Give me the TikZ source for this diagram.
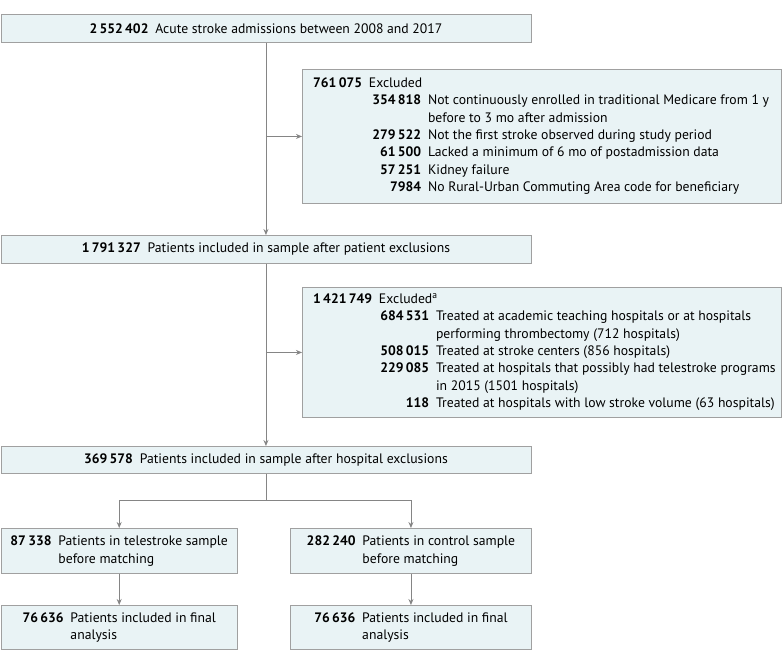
\documentclass[tikz,border=0pt]{standalone}
\usepackage{fontspec}
\setmainfont{PT Sans}
\usetikzlibrary{arrows.meta}
\definecolor{boxfill}{HTML}{E9F3F5}
\definecolor{boxline}{HTML}{A0A0A0}
\definecolor{conn}{HTML}{858585}
\newcommand{\nb}[1]{\textbf{#1}}
\begin{document}
\begin{tikzpicture}[x=1pt,y=-1pt,
  box/.style={draw=boxline,fill=boxfill,line width=0.9pt,inner sep=0pt,anchor=north west,font=\fontsize{13.7}{17.4}\selectfont},
  txt/.style={inner sep=0pt,align=left,font=\fontsize{13.7}{17.4}\selectfont},
  conn/.style={draw=conn,line width=0.9pt},
  arrow/.style={conn,-{Stealth[length=6pt,width=5pt]}}]
\useasboundingbox (0,0) rectangle (783,663);
% main boxes
\node[box,minimum width=530pt,minimum height=28pt] (a) at (0.5,14) {\nb{2\,552\,402}\enspace Acute stroke admissions between 2008 and 2017};
\node[box,minimum width=530pt,minimum height=28pt] (b) at (0.5,235) {\nb{1\,791\,327}\enspace Patients included in sample after patient exclusions};
\node[box,minimum width=530pt,minimum height=27pt] (c) at (0.5,446) {\nb{369\,578}\enspace Patients included in sample after hospital exclusions};
% exclusion boxes
\node[box,minimum width=479pt,minimum height=134pt] (e1) at (302,69) {};
\node[txt,anchor=west] (e1t) at (313,136) {%
\nb{761\,075}\enspace Excluded\\
\makebox[108pt][r]{\nb{354\,818}}\enspace Not continuously enrolled in traditional Medicare from 1 y\\
\makebox[108pt][r]{}\enspace before to 3 mo after admission\\
\makebox[108pt][r]{\nb{279\,522}}\enspace Not the first stroke observed during study period\\
\makebox[108pt][r]{\nb{61\,500}}\enspace Lacked a minimum of 6 mo of postadmission data\\
\makebox[108pt][r]{\nb{57\,251}}\enspace Kidney failure\\
\makebox[108pt][r]{\nb{7984}}\enspace No Rural-Urban Commuting Area code for beneficiary};
\node[box,minimum width=479pt,minimum height=130pt] (e2) at (302,287) {};
\node[txt,anchor=west] (e2t) at (313,352) {%
\nb{1\,421\,749}\enspace Excluded\textsuperscript{a}\\
\makebox[116pt][r]{\nb{684\,531}}\enspace Treated at academic teaching hospitals or at hospitals\\
\makebox[116pt][r]{}\enspace performing thrombectomy (712 hospitals)\\
\makebox[116pt][r]{\nb{508\,015}}\enspace Treated at stroke centers (856 hospitals)\\
\makebox[116pt][r]{\nb{229\,085}}\enspace Treated at hospitals that possibly had telestroke programs\\
\makebox[116pt][r]{}\enspace in 2015 (1501 hospitals)\\
\makebox[116pt][r]{\nb{118}}\enspace Treated at hospitals with low stroke volume (63 hospitals)};
% lower boxes
\node[box,minimum width=236.5pt,minimum height=45pt] (dl) at (0.5,528) {\begin{tabular}{@{}l@{\enspace}l@{}}\nb{87\,338} & Patients in telestroke sample\\ & before matching\end{tabular}};
\node[box,minimum width=241pt,minimum height=45pt] (dr) at (290,528) {\begin{tabular}{@{}l@{\enspace}l@{}}\nb{282\,240} & Patients in control sample\\ & before matching\end{tabular}};
\node[box,minimum width=236.5pt,minimum height=44pt] (fl) at (0.5,605) {\begin{tabular}{@{}l@{\enspace}l@{}}\nb{76\,636} & Patients included in final\\ & analysis\end{tabular}};
\node[box,minimum width=241pt,minimum height=44pt] (fr) at (290,605) {\begin{tabular}{@{}l@{\enspace}l@{}}\nb{76\,636} & Patients included in final\\ & analysis\end{tabular}};
% connectors
\draw[arrow] (a.south) -- (b.north);
\draw[arrow] (a.south |- e1.west) -- (e1.west);
\draw[arrow] (b.south) -- (c.north);
\draw[arrow] (b.south |- e2.west) -- (e2.west);
\path (c.south) ++(0,27) coordinate (br);
\draw[conn] (c.south) -- (br);
\draw[arrow] (br) -| (dl.north);
\draw[arrow] (br) -| (dr.north);
\draw[arrow] (dl.south) -- (fl.north);
\draw[arrow] (dr.south) -- (fr.north);
\end{tikzpicture}
\end{document}
